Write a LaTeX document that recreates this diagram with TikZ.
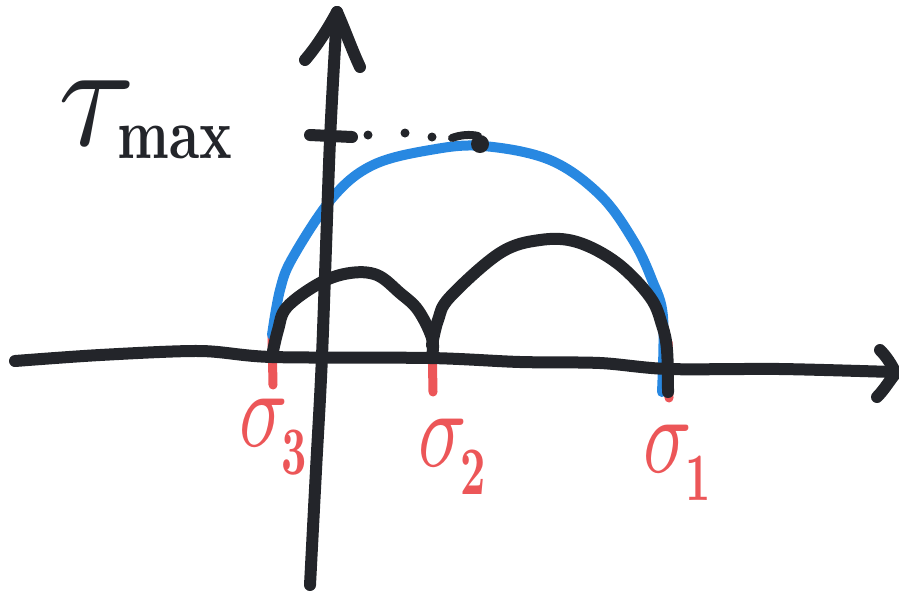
\documentclass[tikz,border=0pt]{standalone}
\usepackage{tikz}
\definecolor{ink}{RGB}{35,37,42}
\definecolor{mblue}{RGB}{40,136,225}
\definecolor{mred}{RGB}{236,86,88}
\tikzset{
  pen/.style={ink,line width=6pt,line cap=round,line join=round},
  bluepen/.style={mblue,line width=5pt,line cap=round,line join=round},
  redpen/.style={mred,line width=4.5pt,line cap=round},
  siglabel/.style={mred,inner sep=0pt,anchor=base west},
  inklabel/.style={ink,inner sep=0pt}
}
\newcommand{\sigwith}[1]{\scalebox{4}[5.5]{$\sigma$}\kern-3pt\raisebox{-14pt}{\scalebox{2.2}[3.4]{\bfseries #1}}}
\begin{document}
\begin{tikzpicture}[x=0.5pt,y=-0.5pt]
\useasboundingbox (0,0) rectangle (899,596);
% red ticks
\draw[redpen] (272,335) -- (273,385);
\draw[redpen] (432,338) -- (433,392);
\draw[redpen] (668,342) -- (669,398);
% blue big circle
\draw[bluepen] plot[smooth,tension=0.6] coordinates {(272,335) (280,290) (293,257) (333,197) (373,165) (430,150) (483,146) (550,160) (600,195) (633,240) (652,280) (663,317) (662,392)};
% small black circle
\draw[pen] plot[smooth,tension=0.6] coordinates {(272,356) (278,330) (287,307) (320,283) (350,273) (377,275) (400,293) (418,310) (432,338) (432,356)};
% big black circle
\draw[pen] plot[smooth,tension=0.6] coordinates {(432,345) (438,320) (450,297) (500,253) (540,240) (577,242) (617,263) (650,297) (662,325) (667,350) (668,392)};
% horizontal axis
\draw[pen] plot[smooth,tension=0.5] coordinates {(15,361) (100,355) (200,351) (272,357) (430,358) (520,362) (600,363) (668,369) (780,369) (893,372)};
\draw[pen] (880,350) .. controls (886,356) and (892,365) .. (895,372);
\draw[pen] (877,397) .. controls (884,390) and (890,380) .. (895,374);
% vertical axis
\draw[pen] plot[smooth,tension=0.5] coordinates {(337,14) (330,140) (322,356) (316,470) (310,585)};
\draw[pen] (305,60) .. controls (318,45) and (330,25) .. (337,12);
\draw[pen] (337,12) .. controls (345,30) and (352,50) .. (360,67);
% tau max marker
\draw[pen] (310,135) -- (352,137);
\fill[ink] (368,135) circle (4.5);
\fill[ink] (405,133) circle (4.5);
\fill[ink] (432,137) circle (4.5);
\draw[ink,line width=4pt,line cap=round] (452,138) .. controls (460,135) and (470,134) .. (478,136);
\fill[ink] (480,144) circle (9);
% labels
\node[inklabel] (tau) at (97,113) {\scalebox{7}[7.5]{$\tau$}};
\node[inklabel] (max) at (175,142) {\scalebox{2.7}[3.6]{\bfseries max}};
\node[siglabel] (s3) at (239,446) {\sigwith{3}};
\node[siglabel] (s2) at (418,466) {\sigwith{2}};
\node[siglabel] (s1) at (643,472) {\sigwith{1}};
\end{tikzpicture}
\end{document}
